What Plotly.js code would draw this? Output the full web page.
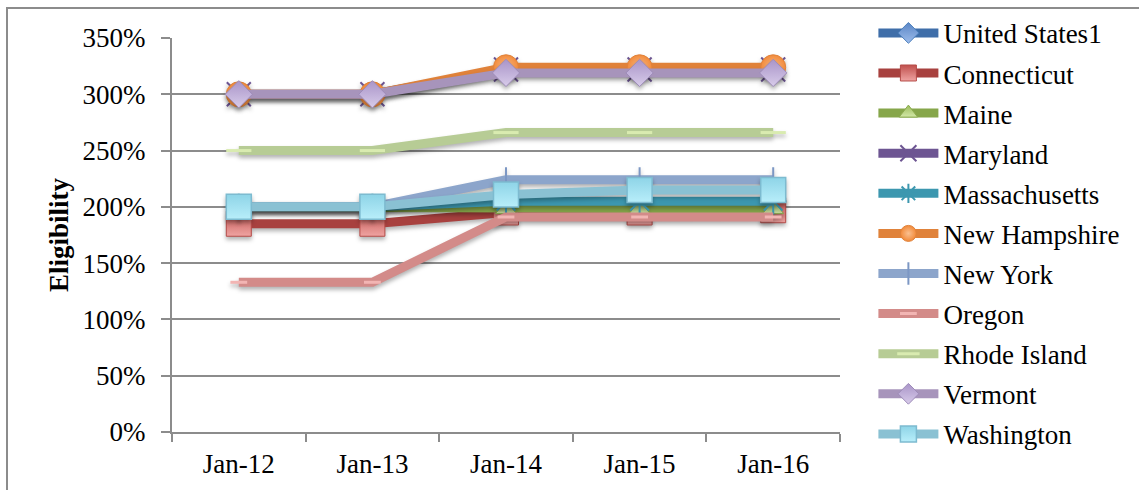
<!DOCTYPE html>
<html>
<head>
<meta charset="utf-8">
<script src="https://cdn.plot.ly/plotly-3.0.1.min.js"></script>
<style>
  html, body { margin: 0; padding: 0; background: #fff; overflow: hidden; }
  #wrap { position: relative; width: 1139px; height: 490px; }
  #chart { position: absolute; left: 0; top: 0; width: 1139px; height: 490px; }
  #frame { position: absolute; left: 6px; top: 7px; width: 1300px; height: 700px;
           border: 2px solid #8c8c8c; pointer-events: none; }
  #chart .scatterlayer .trace { filter: drop-shadow(0px 3px 2px rgba(0,0,0,0.30)); }
</style>
</head>
<body>
<div id="wrap">
  <div id="chart"></div>
  <div id="frame"></div>
</div>
<script>
// ---- data (percent eligibility) ----
const categories = ["Jan-12", "Jan-13", "Jan-14", "Jan-15", "Jan-16"];
const yTickValues = [0, 50, 100, 150, 200, 250, 300, 350];
const yTickLabels = ["0%", "50%", "100%", "150%", "200%", "250%", "300%", "350%"];

const unitedStates1 = [null, null, null, null, null];
const connecticut   = [185, 185, 195, 195, 197];
const maine         = [200, 200, 198, 198, 198];
const maryland      = [300, 300, 322, 322, 322];
const massachusetts = [200, 200, 205, 205, 205];
const newHampshire  = [300, 300, 324, 324, 324];
const newYork       = [200, 200, 224, 224, 224];
const oregon        = [133, 133, 191, 191, 191];
const rhodeIsland   = [250, 250, 266, 266, 266];
const vermont       = [300, 300, 319, 319, 319];
const washington    = [200, 200, 211, 215, 215];

const seriesNames = ["United States1", "Connecticut", "Maine", "Maryland", "Massachusetts",
  "New Hampshire", "New York", "Oregon", "Rhode Island", "Vermont", "Washington"];
const seriesValues = [unitedStates1, connecticut, maine, maryland, massachusetts,
  newHampshire, newYork, oregon, rhodeIsland, vermont, washington];

// ---- styles ----
const styles = [
  {line: "#3F6EA9", marker: {symbol: "diamond", size: 21, color: "#5A86C6", gradient: {type: "vertical", color: "#9DBCEB"}, line: {color: "#4A7EBB", width: 1}}},
  {line: "#A8413F", marker: {symbol: "square", size: 25, color: "#C0504D", gradient: {type: "vertical", color: "#EFA4A2"}, line: {color: "#B54C49", width: 1}}},
  {line: "#86A64A", marker: {symbol: "triangle-up", size: 18, color: "#9BBB59", gradient: {type: "vertical", color: "#D2E8A8"}, line: {color: "#8AAB4E", width: 1}}},
  {line: "#6D5592", marker: {symbol: "x-thin", size: 24, color: "#6D5592", line: {color: "#6D5592", width: 2}}},
  {line: "#3C97AF", marker: {symbol: "asterisk", size: 22, color: "#3C97AF", line: {color: "#3C97AF", width: 2}}},
  {line: "#E0823A", marker: {symbol: "circle", size: 25, color: "#F28A3A", gradient: {type: "radial", color: "#FAC090"}, line: {color: "#E0823A", width: 1}}},
  {line: "#8CA5CB", marker: {symbol: "line-ns", size: 18, color: "#7C97C4", line: {color: "#7C97C4", width: 2}}},
  {line: "#D38B89", marker: {symbol: "line-ew", size: 12, color: "#F2B5B3", line: {color: "#F2B5B3", width: 3}}},
  {line: "#B7CC95", marker: {symbol: "line-ew", size: 18, color: "#D9EBB0", line: {color: "#D9EBB0", width: 3}}},
  {line: "#A794BB", marker: {symbol: "diamond", size: 21, color: "#A994C8", gradient: {type: "vertical", color: "#D8CCEA"}, line: {color: "#9D8BB8", width: 1}}},
  {line: "#8AC1D3", marker: {symbol: "square", size: 25, color: "#8ED4E7", gradient: {type: "vertical", color: "#B8EEFA"}, line: {color: "#7DBBD0", width: 1.5}}}
];

const FONT = '"Liberation Serif"';

const traces = seriesNames.map((name, i) => ({
  type: "scatter",
  mode: "lines+markers",
  name: name,
  x: categories,
  y: seriesValues[i],
  legendgroup: "g" + i,
  line: {color: styles[i].line, width: 9},
  marker: styles[i].marker,
  cliponaxis: false,
  hoverinfo: "skip"
}));

const layout = {
  width: 1139,
  height: 490,
  margin: {l: 172, r: 299, t: 38, b: 58, pad: 0, autoexpand: false},
  paper_bgcolor: "#ffffff",
  plot_bgcolor: "#ffffff",
  font: {family: FONT, size: 27, color: "#000000"},
  showlegend: true,
  legend: {
    x: 1.05, xanchor: "left", y: 1.074, yanchor: "top",
    font: {family: FONT, size: 27, color: "#000"},
    itemwidth: 60,
    tracegroupgap: 2,
    maxheight: 490,
    bgcolor: "rgba(0,0,0,0)",
    borderwidth: 0
  },
  xaxis: {
    type: "category",
    categoryorder: "array",
    categoryarray: categories,
    range: [-0.5, 4.5],
    showgrid: false,
    zeroline: false,
    showline: true,
    linecolor: "#8c8c8c",
    linewidth: 2,
    ticks: "outside",
    tickson: "boundaries",
    ticklen: 8,
    tickwidth: 2,
    tickcolor: "#8c8c8c",
    ticklabelstandoff: 7,
    tickfont: {family: FONT, size: 27, color: "#000"},
    automargin: false
  },
  yaxis: {
    range: [0, 350],
    tickmode: "array",
    tickvals: yTickValues,
    ticktext: yTickLabels,
    showgrid: true,
    gridcolor: "#8c8c8c",
    gridwidth: 2,
    zeroline: false,
    showline: true,
    linecolor: "#8c8c8c",
    linewidth: 2,
    ticks: "outside",
    ticklen: 9,
    tickwidth: 2,
    tickcolor: "#8c8c8c",
    ticklabelstandoff: 10,
    tickfont: {family: FONT, size: 27, color: "#000"},
    automargin: false,
    title: {text: "<b>Eligibility</b>", font: {family: FONT, size: 27, color: "#000"}, standoff: 6}
  }
};

Plotly.newPlot("chart", traces, layout, {displayModeBar: false, staticPlot: true});
</script>
</body>
</html>
